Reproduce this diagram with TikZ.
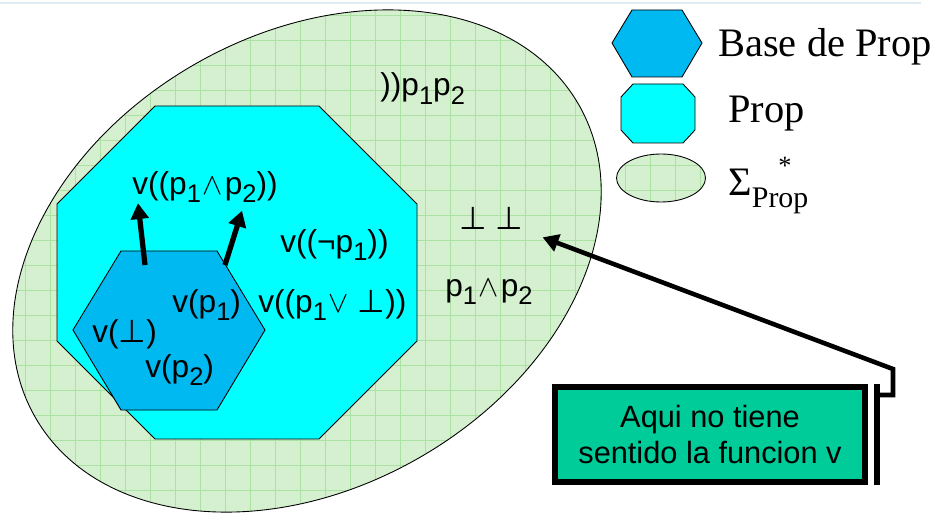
\documentclass[tikz,border=0pt]{standalone}
\usepackage{fontspec}
\setmainfont{Liberation Sans}
\newfontfamily\legfont{Liberation Serif}
\newfontfamily\symfont{DejaVu Sans}
\usetikzlibrary{arrows.meta,calc,positioning}
\definecolor{setgreen}{RGB}{212,240,206}
\definecolor{gridgreen}{RGB}{150,218,140}
\definecolor{propcyan}{RGB}{0,255,255}
\definecolor{baseblue}{RGB}{0,185,240}
\definecolor{notegreen}{RGB}{0,204,153}
\definecolor{slideline}{RGB}{222,236,242}
\newcommand\lowidx[1]{\raisebox{-0.28em}{\fontsize{14.5pt}{14.5pt}\selectfont #1}}
\newcommand\bt{{\symfont ⊥}}
\newcommand\andop{\kern1pt$\wedge$\kern1pt}
\newcommand\orop{\kern1pt$\vee$}

\begin{document}
\begin{tikzpicture}[
    lbl/.style={anchor=base west, inner sep=0pt, font=\fontsize{18pt}{21pt}\selectfont},
    legtxt/.style={anchor=base west, inner sep=0pt, font=\legfont\fontsize{23pt}{27pt}\selectfont},
    setline/.style={draw=black, line width=0.5pt},
    fatarrow/.style={line width=3pt, -{Triangle[length=9pt,width=10pt]}}
  ]
  \useasboundingbox (0,0) rectangle (18.92,10.30);
  \draw[slideline, line width=1pt] (0,10.24) -- (18.42,10.24);

  % Sigma_Prop^*
  \begin{scope}
    \clip[rotate around={30:(6.14,5.08)}] (6.14,5.08) ellipse [x radius=6.27, y radius=4.53];
    \fill[setgreen] (-0.2,-0.2) rectangle (13,10.3);
    \draw[gridgreen!40, line width=0.2pt, step=0.1] (-0.2,-0.2) grid (13,10.3);
    \draw[gridgreen!80, line width=0.3pt, step=0.5] (-0.2,-0.2) grid (13,10.3);
  \end{scope}
  \draw[setline, rotate around={30:(6.14,5.08)}] (6.14,5.08) ellipse [x radius=6.27, y radius=4.53];

  % Prop
  \draw[setline, fill=propcyan] (3.10,8.18) -- (6.38,8.18) -- (8.34,6.22) -- (8.34,3.48)
    -- (6.38,1.52) -- (3.10,1.52) -- (1.14,3.48) -- (1.14,6.22) -- cycle;

  % Base de Prop
  \draw[setline, fill=baseblue] (1.46,3.70) -- (2.42,5.28) -- (4.34,5.28) -- (5.30,3.70)
    -- (4.34,2.10) -- (2.42,2.10) -- cycle;

  \node[lbl] (pp) at (7.60,8.38) {))p\lowidx{1}p\lowidx{2}};
  \node[lbl] (pq) at (2.64,6.42) {v((p\lowidx{1}\andop p\lowidx{2}))};
  \node[lbl] (np) at (5.60,5.26) {v((¬p\lowidx{1}))};
  \node[lbl] (po) at (5.16,4.06) {v((p\lowidx{1}\orop\ \bt))};
  \node[lbl] (vp1) at (3.44,4.06) {v(p\lowidx{1})};
  \node[lbl] (vbot) at (1.84,3.46) {v(\bt)};
  \node[lbl] (vp2) at (2.90,2.76) {v(p\lowidx{2})};
  \node[lbl] (bb) at (9.18,5.72) {\bt\ \bt};
  \node[lbl] (pa) at (8.90,4.38) {p\lowidx{1}\andop p\lowidx{2}};

  \coordinate (s1) at (2.90,5.00);
  \coordinate (s2) at (4.50,5.00);
  \draw[fatarrow] (s1) -- ($(pq.south west)+(0.12,0)$);
  \draw[fatarrow] (s2) -- ($(pq.south west)+(2.20,-0.15)$);

  % callout
  \node[draw, line width=3.4pt, fill=notegreen, minimum width=6.20cm, minimum height=1.90cm,
    align=center, inner sep=0pt, font=\fontsize{17.5pt}{20.8pt}\selectfont] (note) at (14.20,1.61)
    {Aqui no tiene\\sentido la funcion v};
  \draw[line width=3.2pt] ([xshift=0.18cm]note.north east) -- ([xshift=0.18cm]note.south east);
  \draw[line width=2.6pt, -{Triangle[length=9pt,width=10pt]}]
    ([xshift=0.18cm,yshift=-0.22cm]note.north east) -- ++(0.32,0) -- ++(0,0.52)
    -- ($(bb.south east)+(0.38,-0.16)$);

  % legend
  \draw[setline, fill=baseblue] (12.24,9.44) -- (12.64,10.10) -- (13.64,10.10) -- (14.04,9.44)
    -- (13.64,8.76) -- (12.64,8.76) -- cycle;
  \node[legtxt] (lbase) at (14.36,9.16) {Base de Prop};
  \draw[setline, fill=propcyan] (12.66,8.62) -- (13.66,8.62) -- (13.90,8.36) -- (13.90,7.70)
    -- (13.66,7.44) -- (12.66,7.44) -- (12.42,7.70) -- (12.42,8.36) -- cycle;
  \node[legtxt] (lprop) at (14.56,7.84) {Prop};
  \begin{scope}
    \clip (13.22,6.74) ellipse [x radius=0.89, y radius=0.48];
    \fill[setgreen] (12.2,6.1) rectangle (14.2,7.3);
    \draw[gridgreen!40, line width=0.2pt, step=0.1] (12.2,6.1) grid (14.2,7.3);
    \draw[gridgreen!80, line width=0.3pt, step=0.5] (12.2,6.1) grid (14.2,7.3);
  \end{scope}
  \draw[setline] (13.22,6.74) ellipse [x radius=0.89, y radius=0.48];
  \node[legtxt] (lsig) at (14.56,6.40) {Σ\raisebox{-7pt}{\fontsize{17pt}{17pt}\selectfont Prop}\llap{\raisebox{11.5pt}{\fontsize{15pt}{15pt}\selectfont *}\hspace{9.6pt}}};
\end{tikzpicture}
\end{document}
